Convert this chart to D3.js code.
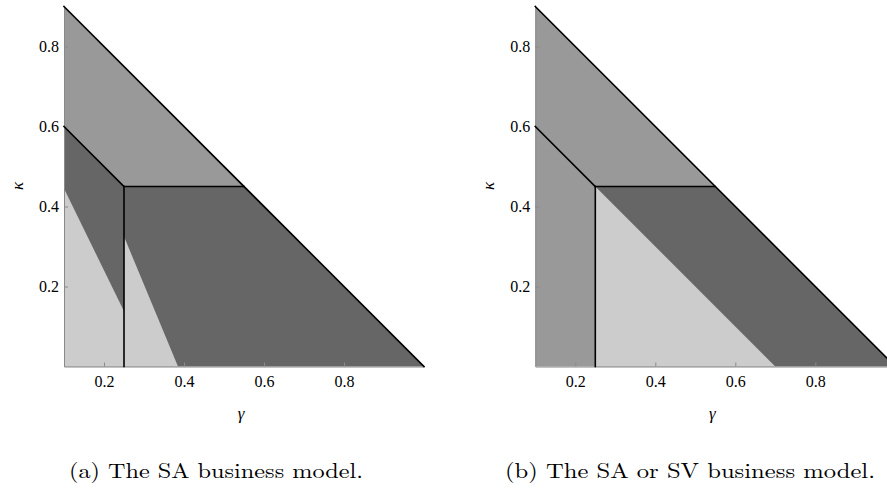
<!DOCTYPE html>
<html>
<head>
<meta charset="utf-8">
<script src="https://cdn.jsdelivr.net/npm/d3@7"></script>
<style>
  html, body { margin: 0; padding: 0; background: #fff; }
  svg { display: block; }
</style>
</head>
<body>
<svg id="chart" width="887" height="489"></svg>
<script>
// ---- data (γ, κ) ----
const gammaDomain = [0.1, 1.0];
const kappaDomain = [0, 0.9];
const xTickValues = [0.2, 0.4, 0.6, 0.8];
const yTickValues = [0.2, 0.4, 0.6, 0.8];

// Panel (a): SA business model regions
const regionA_upper = [[0.1, 0.9], [0.1, 0.6], [0.25, 0.45], [0.55, 0.45]];
const regionA_dark = [[0.1, 0.6], [0.25, 0.45], [0.55, 0.45], [1.0, 0], [0.1, 0]];
const regionA_light1 = [[0.1, 0.445], [0.25, 0.138], [0.25, 0], [0.1, 0]];
const regionA_light2 = [[0.25, 0.325], [0.385, 0], [0.25, 0]];

// Panel (b): SA or SV business model regions
const regionB_upper = [[0.1, 0.9], [0.1, 0], [0.25, 0], [0.25, 0.45], [0.55, 0.45]];
const regionB_dark = [[0.25, 0.45], [0.55, 0.45], [1.0, 0], [0.25, 0]];
const regionB_light = [[0.25, 0.45], [0.7, 0], [0.25, 0]];

// boundary lines (same in both panels)
const boundaryLines = [
  [[0.1, 0.9], [1.0, 0]],
  [[0.1, 0.6], [0.25, 0.45]],
  [[0.25, 0.45], [0.55, 0.45]],
  [[0.25, 0.45], [0.25, 0]]
];

const captions = ["(a) The SA business model.", "(b) The SA or SV business model."];

const colMid = "#999999", colDark = "#666666", colLight = "#cccccc";

const panels = [
  { left: 64, capX: 216, capW: 294, caption: captions[0],
    regions: [[regionA_upper, colMid], [regionA_dark, colDark], [regionA_light1, colLight], [regionA_light2, colLight]] },
  { left: 535.3, capX: 690, capW: 370, caption: captions[1],
    regions: [[regionB_upper, colMid], [regionB_dark, colDark], [regionB_light, colLight]] }
];

const svg = d3.select("#chart");
svg.append("rect").attr("width", 887).attr("height", 489).attr("fill", "#fff");

const plotTop = 6.5, plotBottom = 366.5;
const plotWidth = 360;
const tickFont = "Liberation Serif";

panels.forEach(p => {
  const x = d3.scaleLinear().domain(gammaDomain).range([p.left, p.left + plotWidth]);
  const y = d3.scaleLinear().domain(kappaDomain).range([plotBottom, plotTop]);
  const line = d3.line().x(d => x(d[0])).y(d => y(d[1]));
  const g = svg.append("g");

  p.regions.forEach(([pts, col]) => {
    g.append("path").attr("d", line(pts) + "Z").attr("fill", col).attr("stroke", "none");
  });

  // axes
  const yAxis = d3.axisLeft(y).tickValues(yTickValues).tickFormat(d3.format(".1f"))
    .tickSizeInner(-4).tickSizeOuter(0).tickPadding(5);
  const xAxis = d3.axisBottom(x).tickValues(xTickValues).tickFormat(d3.format(".1f"))
    .tickSizeInner(-4).tickSizeOuter(0).tickPadding(9);

  const ya = g.append("g").attr("transform", `translate(${p.left},0)`).call(yAxis);
  const xa = g.append("g").attr("transform", `translate(0,${plotBottom})`).call(xAxis);
  [ya, xa].forEach(a => {
    a.attr("font-family", tickFont);
    a.select(".domain").attr("stroke", "#8a8a8a").attr("stroke-width", 1);
    a.selectAll(".tick line").attr("stroke", "#8a8a8a").attr("stroke-width", 1);
    a.selectAll(".tick text").style("font-family", tickFont).attr("font-size", 16).attr("fill", "#000");
  });

  // boundary lines
  boundaryLines.forEach(seg => {
    g.append("path").attr("d", line(seg)).attr("fill", "none")
      .attr("stroke", "#000").attr("stroke-width", 1.6).attr("stroke-linecap", "square");
  });

  // axis labels
  g.append("text").attr("transform", `translate(${p.left - 47},186) rotate(-90)`)
    .attr("text-anchor", "middle").attr("dominant-baseline", "central")
    .style("font-family", tickFont).attr("font-style", "italic").attr("font-size", 17).text("κ");
  g.append("text").attr("x", p.left + 177).attr("y", 413)
    .attr("text-anchor", "middle").attr("dominant-baseline", "central")
    .style("font-family", tickFont).attr("font-style", "italic").attr("font-size", 17).text("γ");

  // caption
  g.append("text").attr("x", p.capX).attr("y", 478)
    .attr("text-anchor", "middle").style("font-family", "Latin Modern Roman, Liberation Serif, serif")
    .attr("font-size", 21).attr("textLength", p.capW).attr("lengthAdjust", "spacingAndGlyphs")
    .text(p.caption);
});
</script>
</body>
</html>
